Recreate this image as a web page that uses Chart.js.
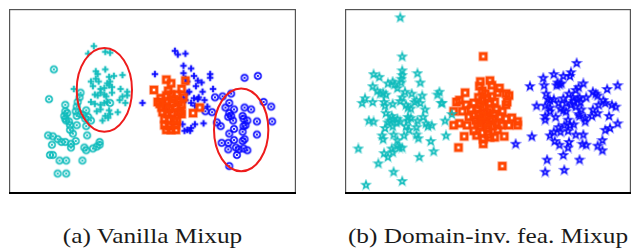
<!DOCTYPE html>
<html>
<head>
<meta charset="utf-8">
<script src="https://cdn.jsdelivr.net/npm/chart.js@4/dist/chart.umd.min.js"></script>
<style>
  body { margin: 0; background: #fff; width: 640px; height: 248px; overflow: hidden; position: relative; }
  canvas { position: absolute; }
  .cap { position: absolute; top: 223px; font-family: "Liberation Serif", serif; font-size: 22px; color: #1a1a1a; text-align: center; white-space: nowrap; transform: scaleX(1.15); }
</style>
</head>
<body>
<canvas id="left" width="301" height="199" style="left:2px;top:2px"></canvas>
<canvas id="right" width="300" height="199" style="left:338px;top:2px"></canvas>
<div class="cap" style="left:2px;width:301px">(a) Vanilla Mixup</div>
<div class="cap" style="left:338px;width:300px">(b) Domain-inv. fea. Mixup</div>
<script>
// values, t-SNE plane in picture units (y grows downwards)
const vanillaCyanCircle = [[49,67],[44,99],[77,92],[76,97],[74,102],[73,107],[61,105],[61,112],[63,114],[60,117],[62,122],[65,123],[66,127],[66,132],[72,112],[73,117],[77,115],[80,116],[83,111],[85,118],[88,122],[82,120],[73,127],[83,128],[84,138],[69,136],[43,138],[48,139],[53,142],[47,148],[57,145],[61,145],[67,147],[72,144],[67,151],[81,151],[83,154],[90,152],[94,150],[97,145],[97,148],[45,159],[48,159],[55,165],[62,165],[79,165],[53,179],[62,179],[108,103],[61,120]];
const vanillaCyanPlus = [[91,42],[85,50],[103,48],[108,49],[93,69],[95,72],[103,67],[93,77],[107,75],[112,74],[121,73],[88,80],[90,85],[105,82],[108,80],[107,84],[110,86],[70,88],[98,88],[102,87],[92,94],[95,95],[98,92],[102,94],[104,96],[110,92],[119,88],[121,96],[126,95],[126,91],[88,102],[92,104],[98,105],[102,103],[105,102],[94,112],[107,111],[108,115],[116,113],[124,103],[118,100],[103,117],[100,122],[106,119],[98,110],[96,80]];
const vanillaOrange = [[167,78],[172,82],[187,79],[154,89],[183,88],[169,90],[167,95],[172,94],[178,94],[161,98],[158,102],[163,103],[167,102],[173,103],[180,102],[183,105],[162,108],[167,107],[170,110],[177,108],[182,112],[163,113],[168,115],[173,114],[180,113],[183,115],[165,120],[170,121],[175,122],[178,123],[165,127],[170,128],[177,127],[167,132],[172,132],[177,132],[202,108],[195,114],[160,104],[175,99],[185,97]];
const vanillaBluePlus = [[176,47],[179,51],[187,50],[185,63],[193,66],[155,72],[185,71],[187,77],[196,74],[200,79],[204,81],[213,72],[213,76],[216,88],[189,80],[191,91],[205,91],[196,98],[200,99],[207,100],[193,103],[197,106],[210,107],[142,103],[189,92],[185,97],[184,126],[197,126],[206,125],[189,132],[193,130],[186,133],[192,133],[198,85],[201,97],[187,100]];
const vanillaBlueCircle = [[249,76],[263,74],[218,97],[226,96],[235,93],[233,103],[229,108],[238,110],[249,108],[256,110],[269,102],[277,107],[233,114],[235,117],[232,118],[237,122],[247,117],[248,120],[252,122],[250,127],[248,128],[262,123],[278,123],[220,124],[224,128],[238,131],[233,136],[247,134],[262,137],[225,146],[232,146],[238,143],[247,144],[249,142],[232,153],[240,151],[243,153],[248,152],[252,154],[241,159],[233,171],[208,112],[215,113]];
// ellipses: centre x, centre y, radius x, radius y
const vanillaEllipses = [[102,89,29,45],[245.5,132,28.5,44.5]];

const invCyanStar = [[396,11],[398,53],[398,68],[398,73],[397,77],[397,81],[368,72],[374,75],[414,71],[417,81],[367,85],[383,82],[388,80],[390,83],[393,87],[359,98],[356,103],[367,102],[372,90],[375,93],[378,92],[381,94],[401,91],[408,93],[419,95],[435,94],[437,91],[439,103],[379,102],[380,106],[388,104],[396,101],[398,97],[402,105],[404,108],[407,109],[411,102],[413,100],[417,103],[422,110],[381,114],[387,117],[393,120],[388,120],[385,122],[383,124],[404,118],[407,119],[404,122],[420,118],[414,122],[363,122],[368,123],[392,124],[396,123],[388,128],[380,130],[402,128],[405,132],[413,129],[423,125],[425,128],[429,127],[443,122],[389,137],[400,138],[413,137],[415,141],[377,138],[378,142],[393,143],[428,144],[444,138],[393,149],[395,151],[398,151],[387,152],[388,156],[352,152],[379,157],[383,161],[416,161],[431,155],[373,168],[389,177],[398,187],[360,191],[450,115],[440,103]];
const invOrange = [[483,53],[480,80],[490,79],[492,84],[479,85],[482,90],[478,97],[464,92],[500,87],[498,92],[507,93],[510,95],[455,102],[458,100],[465,105],[473,103],[482,100],[487,98],[490,103],[495,102],[508,102],[507,105],[452,112],[461,112],[468,118],[473,116],[477,110],[483,108],[490,110],[497,110],[503,112],[452,127],[458,125],[466,127],[475,122],[480,120],[485,118],[493,120],[500,118],[507,120],[513,119],[519,123],[480,128],[487,127],[493,128],[502,127],[510,127],[473,133],[482,135],[488,137],[498,132],[505,139],[495,140],[463,139],[483,142],[490,140],[457,151],[483,147],[503,171],[478,115],[487,113],[495,115],[485,125],[480,105],[492,96],[485,93],[519,127],[477,125],[490,122],[482,117],[497,125],[470,110],[488,130],[476,138]];
const invBlueStar = [[581,60],[557,72],[567,74],[575,70],[574,74],[546,76],[532,85],[547,84],[561,81],[563,83],[565,82],[560,84],[580,89],[583,86],[588,82],[549,93],[551,99],[553,100],[557,99],[562,103],[567,98],[570,103],[573,93],[577,97],[578,101],[582,99],[584,97],[585,102],[591,97],[598,91],[601,93],[603,95],[613,88],[624,84],[539,106],[548,106],[553,108],[553,112],[564,109],[567,111],[570,112],[575,105],[580,107],[586,110],[583,115],[584,117],[598,110],[604,105],[609,100],[611,103],[618,105],[622,107],[615,117],[597,117],[603,114],[548,117],[548,121],[559,118],[572,121],[590,119],[590,123],[568,127],[574,127],[578,126],[562,129],[557,134],[553,138],[564,134],[572,133],[580,137],[588,137],[611,132],[616,130],[624,125],[558,144],[563,148],[573,145],[572,151],[587,147],[591,148],[603,149],[608,143],[608,154],[534,139],[567,159],[550,164],[584,164],[548,177],[568,175],[517,147]];

const CYAN = '#10bcbc', BLUE = '#0a0aff', ORANGE = '#ff4500';

function marker(kind, color) {
  const c = document.createElement('canvas');
  c.width = 12; c.height = 12;
  const g = c.getContext('2d');
  g.translate(6, 6);
  g.strokeStyle = color;
  g.fillStyle = color;
  if (kind === 'ring') {
    g.globalAlpha = 0.35; g.lineWidth = 2.4;
    g.beginPath(); g.arc(0, 0, 3.2, 0, Math.PI * 2); g.stroke();
    g.globalAlpha = 1; g.lineWidth = 1.2;
    g.beginPath(); g.arc(0, 0, 3.2, 0, Math.PI * 2); g.stroke();
    g.lineWidth = 0.9;
    g.beginPath(); g.moveTo(-1.3, -1.3); g.lineTo(1.3, 1.3); g.moveTo(1.3, -1.3); g.lineTo(-1.3, 1.3); g.stroke();
  } else if (kind === 'plus') {
    g.globalAlpha = 0.35; g.lineWidth = 2.8;
    g.beginPath(); g.moveTo(-3.3, 0); g.lineTo(3.3, 0); g.moveTo(0, -3.3); g.lineTo(0, 3.3); g.stroke();
    g.globalAlpha = 1; g.lineWidth = 1.7;
    g.beginPath(); g.moveTo(-3.2, 0); g.lineTo(3.2, 0); g.moveTo(0, -3.2); g.lineTo(0, 3.2); g.stroke();
  } else if (kind === 'square') {
    g.globalAlpha = 0.45; g.lineWidth = 3.8;
    g.strokeRect(-2.9, -2.9, 5.8, 5.8);
    g.globalAlpha = 1; g.lineWidth = 2.6;
    g.strokeRect(-2.8, -2.8, 5.6, 5.6);
  } else if (kind === 'star') {
    const pts = [];
    for (let i = 0; i < 10; i++) {
      const r = i % 2 ? 1.5 : 3.6, a = -Math.PI / 2 + i * Math.PI / 5;
      pts.push([r * Math.cos(a), r * Math.sin(a) + 0.3]);
    }
    const path = () => { g.beginPath(); pts.forEach((p, i) => i ? g.lineTo(p[0], p[1]) : g.moveTo(p[0], p[1])); g.closePath(); };
    g.lineJoin = 'miter';
    g.globalAlpha = 0.3; g.lineWidth = 2.6; path(); g.stroke();
    g.globalAlpha = 1; g.lineWidth = 1.3; path(); g.stroke();
  }
  return c;
}

const framePlugin = {
  id: 'frame',
  afterDatasetsDraw(chart, args, opts) {
    const ctx = chart.ctx, xs = chart.scales.x, ys = chart.scales.y;
    ctx.save();
    ctx.strokeStyle = '#ee1c1c';
    ctx.lineWidth = 2;
    (opts.ellipses || []).forEach(e => {
      const cx = xs.getPixelForValue(e[0]), cy = ys.getPixelForValue(e[1]);
      const rx = Math.abs(xs.getPixelForValue(e[0] + e[2]) - cx), ry = Math.abs(ys.getPixelForValue(e[1] + e[3]) - cy);
      ctx.beginPath(); ctx.ellipse(cx, cy, rx, ry, 0, 0, Math.PI * 2); ctx.stroke();
    });
    const a = chart.chartArea;
    ctx.strokeStyle = '#555';
    ctx.lineWidth = 1.2;
    ctx.strokeRect(a.left + 0.6, a.top + 0.6, a.right - a.left - 1.2, a.bottom - a.top - 1.2);
    ctx.strokeStyle = '#000';
    ctx.lineWidth = 2;
    ctx.beginPath(); ctx.moveTo(a.left, a.bottom - 1); ctx.lineTo(a.right, a.bottom - 1); ctx.stroke();
    ctx.restore();
  }
};

function toXY(arr) { return arr.map(p => ({ x: p[0], y: p[1] })); }

function panel(id, xmin, xmax, series, ellipses) {
  new Chart(document.getElementById(id), {
    type: 'scatter',
    data: {
      datasets: series.map(s => ({
        data: toXY(s.data),
        pointStyle: marker(s.kind, s.color),
        pointRadius: 6,
        pointHoverRadius: 6,
        clip: false
      }))
    },
    options: {
      responsive: false,
      animation: false,
      events: [],
      layout: { padding: 0 },
      scales: {
        x: { type: 'linear', display: false, min: xmin, max: xmax },
        y: { type: 'linear', display: false, min: 2, max: 201, reverse: true }
      },
      plugins: { legend: { display: false }, tooltip: { enabled: false }, frame: { ellipses: ellipses } }
    },
    plugins: [framePlugin]
  });
}

panel('left', 2, 303, [
  { data: vanillaOrange, kind: 'square', color: ORANGE },
  { data: vanillaBlueCircle, kind: 'ring', color: BLUE },
  { data: vanillaBluePlus, kind: 'plus', color: BLUE },
  { data: vanillaCyanPlus, kind: 'plus', color: CYAN },
  { data: vanillaCyanCircle, kind: 'ring', color: CYAN }
], vanillaEllipses);

panel('right', 338, 638, [
  { data: invCyanStar, kind: 'star', color: CYAN },
  { data: invBlueStar, kind: 'star', color: BLUE },
  { data: invOrange, kind: 'square', color: ORANGE }
], []);
</script>
</body>
</html>
